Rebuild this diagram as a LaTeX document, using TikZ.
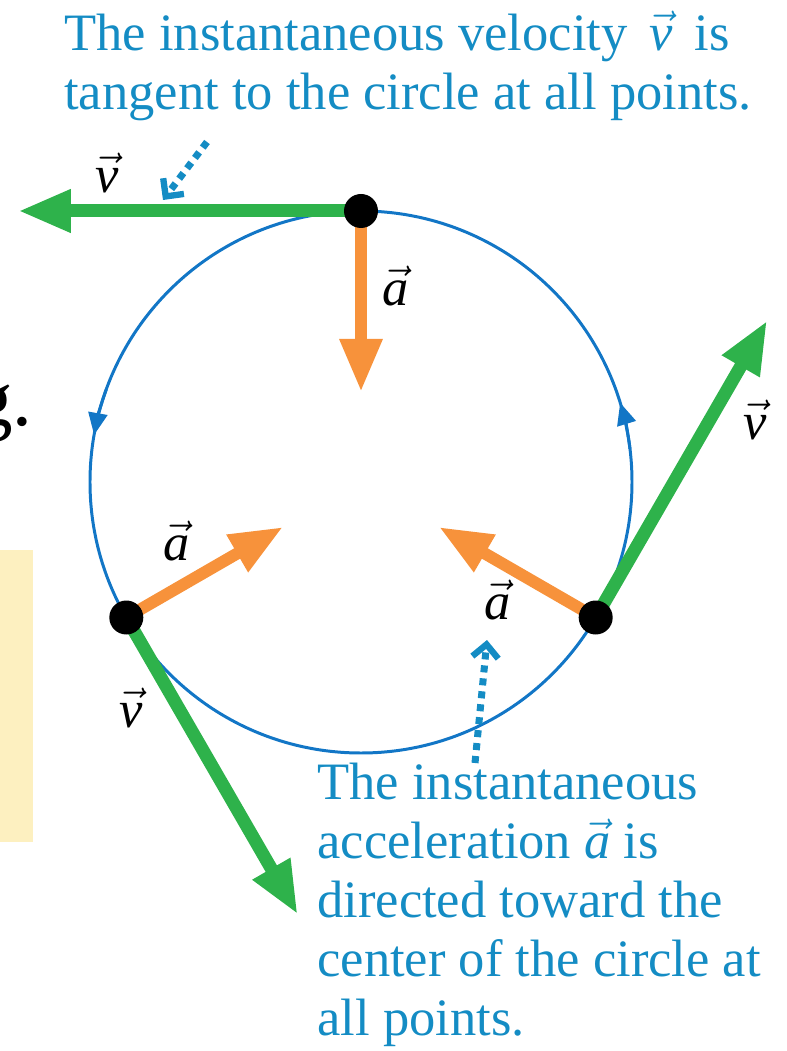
\RequirePackage{fix-cm}
\documentclass[tikz,border=0pt]{standalone}
\usepackage{fontspec}
\setmainfont{Liberation Serif}
\usetikzlibrary{arrows.meta}

\definecolor{velgreen}{RGB}{46,178,75}
\definecolor{accorange}{RGB}{247,146,59}
\definecolor{noteblue}{RGB}{20,140,196}
\definecolor{pathblue}{RGB}{18,118,198}
\definecolor{boxyellow}{RGB}{253,240,192}

\begin{document}
\begin{tikzpicture}[
  orbit/.style={pathblue, line width=1.7pt},
  vel/.style={velgreen, line width=7.4pt, -{Triangle[length=1.06cm,width=0.8cm]}},
  acc/.style={accorange, line width=6.8pt, -{Triangle[length=1.06cm,width=0.8cm]}},
  dot/.style={circle, fill=black, inner sep=0pt, minimum size=0.68cm},
  lbl/.style={font=\fontsize{29.9}{34.1}\selectfont},
  note/.style={noteblue, align=left, inner sep=0pt, anchor=north west, font=\fontsize{29.9}{33.6}\selectfont},
  pointer/.style={noteblue, line width=4pt, dash pattern=on 4pt off 3.4pt,
    -{Straight Barb[length=0.26cm,width=0.52cm,line width=3.6pt]}}
]
  \useasboundingbox (-7.22,-11.38) rectangle (8.5,9.64);
  % pale box and a cut-off word at the left edge
  \fill[boxyellow] (-7.22,-1.36) rectangle (-6.56,-7.2);
  \node[anchor=base east, inner sep=0pt, font=\fontsize{45}{50}\selectfont] (cut) at (-6.56,1.12) {g.};
  % the circular path, run counterclockwise
  \draw[orbit] (0,0) circle (5.42);
  \draw[orbit, -{Triangle[length=0.44cm,width=0.38cm]}] (160:5.42) arc[start angle=160, end angle=170, radius=5.42];
  \draw[orbit, -{Triangle[length=0.44cm,width=0.38cm]}] (7:5.42) arc[start angle=7, end angle=17, radius=5.42];
  % three positions, 120 degrees apart
  \coordinate (top) at (90:5.42);
  \coordinate (lft) at (210:5.42);
  \coordinate (rgt) at (330:5.42);
  % tips: v along the tangent, a toward the center
  \coordinate (vtop) at (-6.86,5.42);
  \coordinate (vlft) at (-1.264,-8.651);
  \coordinate (vrgt) at (8.124,3.231);
  \coordinate (atop) at (90:1.8);
  \coordinate (alft) at (210:1.8);
  \coordinate (argt) at (330:1.8);
  \draw[vel] (top) -- (vtop);
  \draw[vel] (lft) -- (vlft);
  \draw[vel] (rgt) -- (vrgt);
  \draw[acc] (top) -- (atop);
  \draw[acc] (lft) -- (alft);
  \draw[acc] (rgt) -- (argt);
  \node[dot] (dtop) at (top) {};
  \node[dot] (dlft) at (lft) {};
  \node[dot] (drgt) at (rgt) {};
  % vector labels
  \node[lbl] (vtoplbl) at (-5.08,6.18) {$\vec{\textit{v}}$};
  \node[lbl] (atoplbl) at (0.70,3.92) {$\vec{\textit{a}}$};
  \node[lbl] (alftlbl) at (-3.68,-1.18) {$\vec{\textit{a}}$};
  \node[lbl] (vlftlbl) at (-4.6,-4.52) {$\vec{\textit{v}}$};
  \node[lbl] (argtlbl) at (2.74,-2.36) {$\vec{\textit{a}}$};
  \node[lbl] (vrgtlbl) at (7.88,1.24) {$\vec{\textit{v}}$};
  % notes
  \node[note] (vnote) at (-5.94,9.42) {The instantaneous velocity\, $\vec{\textit{v}}$\, is\\tangent to the circle at all points.};
  \node[note] (anote) at (-0.88,-5.62) {The instantaneous\\acceleration $\vec{\textit{a}}$ is\\directed toward the\\center of the circle at\\all points.};
  \coordinate (vptr) at (-3.08,6.8);
  \coordinate (vtip) at (-3.96,5.64);
  \coordinate (aptr) at (2.28,-5.62);
  \coordinate (atip) at (2.52,-3.16);
  \draw[pointer] (vptr) -- (vtip);
  \draw[pointer] (aptr) -- (atip);
\end{tikzpicture}
\end{document}
